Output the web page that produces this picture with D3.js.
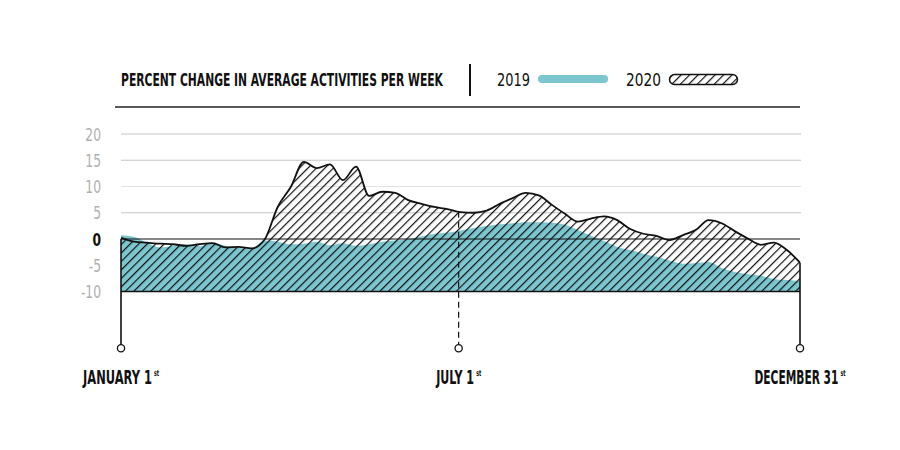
<!DOCTYPE html>
<html><head><meta charset="utf-8">
<script src="https://cdn.jsdelivr.net/npm/d3@7/dist/d3.min.js"></script>
<style>body{margin:0;background:#fff}svg{display:block}</style>
</head><body><svg id="c" width="900" height="450"></svg>
<script>
// ---- data ----
const weeks = d3.range(0, 53);
const values2019 = [0.7,0.4,-0.7,-1.6,-1.3,-1.0,-1.4,-0.6,-1.3,-1.7,-1.8,-0.3,-0.5,-1.0,-0.9,-0.5,-1.2,-0.8,-1.3,-1.0,
  -0.5,-0.3,0.0,0.5,1.0,1.2,1.6,2.1,2.5,2.8,3.0,3.2,3.2,3.1,2.7,1.7,0.6,-0.4,-1.5,-2.1,
  -2.8,-3.4,-4.1,-4.7,-4.6,-4.4,-5.5,-6.3,-6.7,-7.0,-7.6,-7.8,-8.0];
const values2020 = [0.2,-0.5,-0.7,-0.9,-1.0,-1.3,-1.0,-0.8,-1.6,-1.5,-1.8,-0.1,6.1,9.9,14.7,13.5,14.2,11.2,13.8,8.2,
  9.0,8.8,7.4,6.7,6.1,5.7,5.1,5.0,5.4,6.7,7.8,8.8,8.3,6.5,4.8,3.3,3.9,4.3,3.6,1.9,
  1.0,0.6,-0.2,0.7,1.7,3.6,3.0,1.5,0.1,-1.1,-0.7,-2.1,-4.5];
const yTicks = [20, 15, 10, 5, 0, -5, -10];
const gridTicks = [20, 15, 10, 5];
const markerDays = [0, 181, 364];
const markerLabels = ["JANUARY 1", "JULY 1", "DECEMBER 31"];
const markerSup = ["st", "st", "st"];
const titleText = "PERCENT CHANGE IN AVERAGE ACTIVITIES PER WEEK";
const legendLabels = ["2019", "2020"];

// ---- layout ----
const svg = d3.select("#c");
const FONT = "'Liberation Sans Narrow','DejaVu Sans Condensed','DejaVu Sans',sans-serif";
const x = d3.scaleLinear().domain([0, 52]).range([121, 800]);
const y = d3.scaleLinear().domain([-10, 20]).range([291.5, 134]);
const teal = "#7cc6cf";

const defs = svg.append("defs");
const pat = defs.append("pattern").attr("id", "hatch").attr("patternUnits", "userSpaceOnUse")
  .attr("width", 6).attr("height", 6).attr("patternTransform", "rotate(45)");
pat.append("line").attr("x1", 0.6).attr("y1", 0).attr("x2", 0.6).attr("y2", 6)
  .attr("stroke", "#111").attr("stroke-width", 1.2);

// place a text scaled horizontally to a target width
function placeText(parent, str, opts) {
  const t = parent.append("text").attr("x", 0).attr("y", 0)
    .attr("font-family", FONT).attr("font-size", opts.size)
    .attr("font-weight", opts.weight || "normal").attr("fill", opts.fill || "#111")
    .attr("text-anchor", opts.anchor || "start").text(str);
  const w = t.node().getComputedTextLength();
  const sx = opts.width ? opts.width / w : (opts.sx || 1);
  t.attr("transform", `translate(${opts.x},${opts.y}) scale(${sx},1)`);
  return t;
}

// header
placeText(svg, titleText, {x: 121, y: 86, size: 18.5, weight: "bold", width: 322});
svg.append("line").attr("x1", 470).attr("x2", 470).attr("y1", 64).attr("y2", 96)
  .attr("stroke", "#111").attr("stroke-width", 2);
placeText(svg, legendLabels[0], {x: 497, y: 86, size: 18.5, width: 33});
svg.append("rect").attr("x", 538).attr("y", 75).attr("width", 70).attr("height", 8).attr("rx", 4)
  .attr("fill", teal);
placeText(svg, legendLabels[1], {x: 626, y: 86, size: 18.5, width: 35});
svg.append("rect").attr("x", 669.5).attr("y", 74.5).attr("width", 68).attr("height", 10).attr("rx", 5)
  .attr("fill", "url(#hatch)").attr("stroke", "#111").attr("stroke-width", 1.5);
svg.append("line").attr("x1", 115).attr("x2", 800).attr("y1", 107).attr("y2", 107)
  .attr("stroke", "#222").attr("stroke-width", 1.5);

// gridlines
svg.append("g").selectAll("line").data(gridTicks).join("line")
  .attr("x1", 121).attr("x2", 801).attr("y1", d => y(d)).attr("y2", d => y(d))
  .attr("stroke", d => d === 10 ? "#e2e2e2" : "#c6c6c6").attr("stroke-width", 1);

// tick labels
const tg = svg.append("g");
yTicks.forEach(d => {
  placeText(tg, String(d), {x: 101, y: y(d) + 6.5, size: 18.5, anchor: "end", sx: 0.74,
    fill: d === 0 ? "#111" : "#b0b0b0", weight: d === 0 ? "bold" : "normal"});
});

// areas
const a2019 = d3.area().x((d, i) => x(weeks[i])).y0(y(-10)).y1(d => y(d)).curve(d3.curveMonotoneX);
const a2020 = d3.area().x((d, i) => x(weeks[i])).y0(y(-10)).y1(d => y(d)).curve(d3.curveMonotoneX);
const l2020 = d3.line().x((d, i) => x(weeks[i])).y(d => y(d)).curve(d3.curveMonotoneX);
svg.append("path").datum(values2019).attr("d", a2019).attr("fill", teal);
svg.append("path").datum(values2020).attr("d", a2020).attr("fill", "url(#hatch)");
svg.append("path").datum(values2020).attr("d", l2020).attr("fill", "none")
  .attr("stroke", "#111").attr("stroke-width", 1.8).attr("stroke-linejoin", "round");

// zero and base lines
svg.append("line").attr("x1", 121).attr("x2", 800).attr("y1", y(0)).attr("y2", y(0))
  .attr("stroke", "#111").attr("stroke-width", 1.2);
svg.append("line").attr("x1", 121).attr("x2", 800).attr("y1", y(-10)).attr("y2", y(-10))
  .attr("stroke", "#111").attr("stroke-width", 1.5);

// markers
const v2020At = d => {
  const w = d / 7; const i = Math.min(51, Math.floor(w)); const t = w - i;
  return values2020[i] * (1 - t) + values2020[i + 1] * t;
};
const mk = svg.append("g");
const mainW = [69, 38, 84];
const supW = 5;
markerDays.forEach((d, i) => {
  const cx = x(d / 7);
  mk.append("line").attr("x1", cx).attr("x2", cx)
    .attr("y1", i === 0 ? y(0) : y(v2020At(d))).attr("y2", 344.5)
    .attr("stroke", "#111").attr("stroke-width", i === 1 ? 1.2 : 1.6)
    .attr("stroke-dasharray", i === 1 ? "6,4" : null);
  mk.append("circle").attr("cx", cx).attr("cy", 348.3).attr("r", 3.6)
    .attr("fill", "#fff").attr("stroke", "#111").attr("stroke-width", 1.3);
  const x0 = cx - (mainW[i] + supW + 2) / 2;
  placeText(mk, markerLabels[i], {x: x0, y: 383.5, size: 20, weight: "bold", width: mainW[i]});
  placeText(mk, markerSup[i], {x: x0 + mainW[i] + 2, y: 375.5, size: 8.5, weight: "bold", width: supW});
});
</script></body></html>
